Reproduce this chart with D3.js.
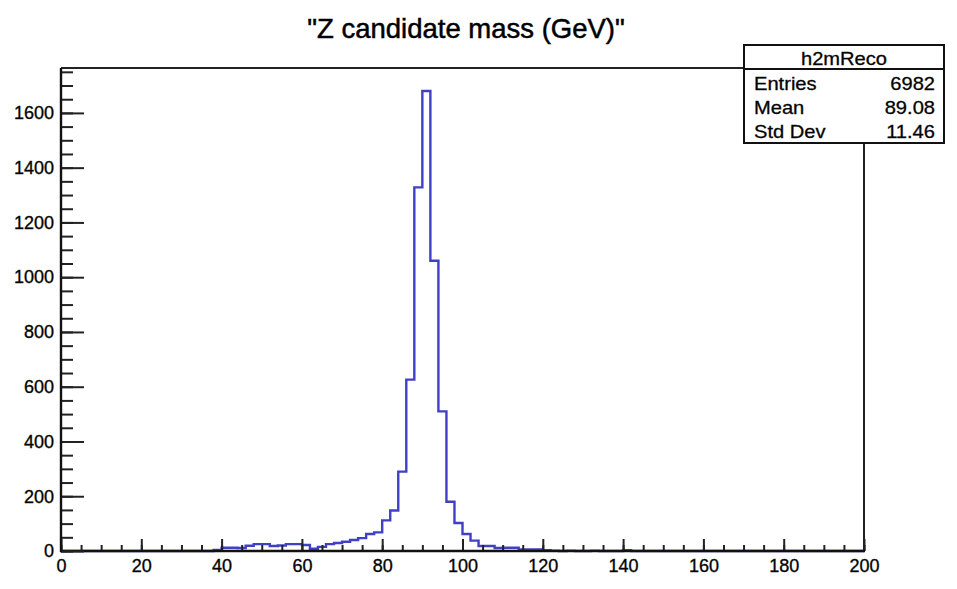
<!DOCTYPE html>
<html><head><meta charset="utf-8">
<script src="https://cdn.jsdelivr.net/npm/d3@7"></script>
<style>
body{margin:0;background:#fff}
svg{display:block}
text{font-family:"Liberation Sans",Arial,Helvetica,sans-serif;fill:#000}
</style>
</head><body>
<svg id="c" width="957" height="589"></svg>
<script>
// ---- data ----
const chartTitle = '"Z candidate mass (GeV)"';
const binLow = 0;
const binWidth = 2;
// counts per 2 GeV bin, [0,2) ... [198,200)
const counts = [
  0,0,0,0,0,0,0,0,0,0,          // 0-18
  0,0,0,0,0,0,0,0,0,4,          // 20-38
  12,12,11,19,25,25,18,20,25,25,// 40-58
  22,8,15,25,29,34,40,47,62,68, // 60-78
  112,148,290,626,1328,1680,1060,510,180,102, // 80-98
  62,38,18,18,11,12,12,6,6,6,   // 100-118
  3,1,0,1,0,0,1,0,0,0,          // 120-138
  3,0,0,0,0,0,0,0,0,0,          // 140-158
  0,0,0,0,0,0,0,0,0,0,          // 160-178
  0,0,0,0,0,0,0,0,0,0           // 180-198
];
const xDomain = [0, 200];
const yMax = 1764;
const xMajorTicks = [0,20,40,60,80,100,120,140,160,180,200];
const xMinorTicks = d3.range(0, 201, 5);
const yMajorTicks = [0,200,400,600,800,1000,1200,1400,1600];
const yMinorTicks = d3.range(0, 1751, 50);
const statsName = "h2mReco";
const statsLabels = ["Entries","Mean","Std Dev"];
const statsValues = ["6982","89.08","11.46"];

// ---- layout ----
const L = 61, R = 864, T = 68, B = 551;
const svg = d3.select("#c");
const x = d3.scaleLinear().domain(xDomain).range([L, R]);
const y = d3.scaleLinear().domain([0, yMax]).range([B, T]);
const FONT = '"Liberation Sans",Arial,sans-serif';

// histogram step line
const pts = counts.map((c, i) => [binLow + i * binWidth, c]);
pts.push([binLow + counts.length * binWidth, counts[counts.length - 1]]);
const line = d3.line().x(d => x(d[0])).y(d => y(d[1])).curve(d3.curveStepAfter);
svg.append("path").attr("d", line(pts))
  .attr("fill", "none").attr("stroke", "#4040c4").attr("stroke-width", 2.4)
  .attr("stroke-linejoin", "miter");

// frame (top and right)
svg.append("line").attr("x1", L).attr("x2", R).attr("y1", T).attr("y2", T)
  .attr("stroke", "#222").attr("stroke-width", 2);
svg.append("line").attr("x1", R).attr("x2", R).attr("y1", T).attr("y2", B)
  .attr("stroke", "#222").attr("stroke-width", 2);

function styleLabels(g) {
  g.selectAll("text").attr("font-size", 18).attr("font-family", FONT)
    .attr("fill", "#111").attr("stroke", "#111").attr("stroke-width", 0.35);
}

// x axis
const gx = svg.append("g").attr("transform", `translate(0,${B})`);
gx.call(d3.axisBottom(x).tickValues(xMinorTicks).tickSize(-6).tickFormat(""))
  .call(g => g.select(".domain").remove());
gx.append("g").call(d3.axisBottom(x).tickValues(xMajorTicks).tickSize(-12).tickPadding(8).tickFormat(d3.format("d")))
  .call(g => g.select(".domain").remove())
  .call(styleLabels);
gx.selectAll("line").attr("stroke", "#222").attr("stroke-width", 2);
svg.append("line").attr("x1", L - 1).attr("x2", R + 1).attr("y1", B).attr("y2", B)
  .attr("stroke", "#111").attr("stroke-width", 2.4);

// y axis
const gy = svg.append("g").attr("transform", `translate(${L},0)`);
gy.call(d3.axisLeft(y).tickValues(yMinorTicks).tickSize(-12).tickFormat(""))
  .call(g => g.select(".domain").remove());
gy.append("g").call(d3.axisLeft(y).tickValues(yMajorTicks).tickSize(-23).tickPadding(7).tickFormat(d3.format("d")))
  .call(g => g.select(".domain").remove())
  .call(styleLabels);
gy.selectAll("line").attr("stroke", "#222").attr("stroke-width", 2);
svg.append("line").attr("x1", L).attr("x2", L).attr("y1", T).attr("y2", B + 1)
  .attr("stroke", "#111").attr("stroke-width", 2.4);

// title
svg.append("text").attr("x", 466).attr("y", 38).attr("text-anchor", "middle")
  .attr("font-size", 27.5).attr("stroke", "#000").attr("stroke-width", 0.5)
  .text(chartTitle);

// stats box
const sb = {x: 744, y: 45, w: 200, h: 98};
const sx = 1.15;
const sg = svg.append("g");
sg.append("rect").attr("x", sb.x).attr("y", sb.y).attr("width", sb.w).attr("height", sb.h)
  .attr("fill", "#fff").attr("stroke", "#111").attr("stroke-width", 2);
sg.append("line").attr("x1", sb.x).attr("x2", sb.x + sb.w).attr("y1", 69).attr("y2", 69)
  .attr("stroke", "#111").attr("stroke-width", 2);
function statText(px, py, anchor, s) {
  sg.append("text").attr("transform", `translate(${px},${py}) scale(${sx},1)`)
    .attr("text-anchor", anchor).attr("font-size", 17.5)
    .attr("stroke", "#111").attr("stroke-width", 0.3).text(s);
}
statText(sb.x + sb.w / 2, 65, "middle", statsName);
const rowY = [90, 114, 138];
statsLabels.forEach((lab, i) => {
  statText(sb.x + 10, rowY[i], "start", lab);
  statText(sb.x + sb.w - 9, rowY[i], "end", statsValues[i]);
});
</script>
</body></html>
